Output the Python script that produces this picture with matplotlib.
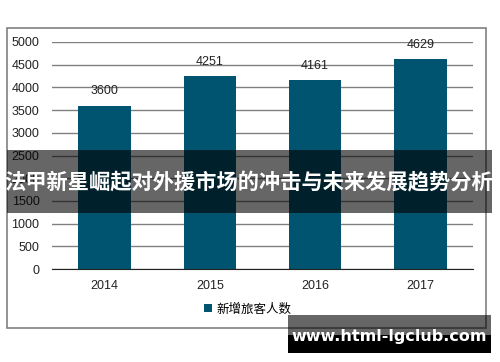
import matplotlib.pyplot as plt
from matplotlib.patches import Rectangle

plt.rcParams['font.family'] = ['Liberation Sans', 'Noto Sans CJK SC', 'DejaVu Sans']

years = ["2014", "2015", "2016", "2017"]
visitors = [3600, 4251, 4161, 4629]
yticks = [0, 500, 1000, 1500, 2000, 2500, 3000, 3500, 4000, 4500, 5000]
series_name = "新增旅客人数"
banner = "法甲新星崛起对外援市场的冲击与未来发展趋势分析"
watermark = "www.html-lgclub.com"

BAR = "#01546F"
W, H = 500, 362

fig = plt.figure(figsize=(W / 100, H / 100), dpi=100)

# outer frame of the chart
fig.patches.append(Rectangle((7 / W, 1 - 328 / H), 479 / W, 300 / H, transform=fig.transFigure,
                             fill=False, edgecolor="#808080", linewidth=1.2, zorder=0))

ax = fig.add_axes([52 / W, 93 / H, 421 / W, 227 / H])
x = range(len(years))
bars = ax.bar(x, visitors, width=0.5, color=BAR, label=series_name, zorder=3)
for xi, v in zip(x, visitors):
    ax.annotate(str(v), (xi, v), xytext=(0, 6), textcoords="offset points",
                ha="center", va="bottom", fontsize=9, color="#222222")

ax.set_xlim(-0.5, len(years) - 0.5)
ax.set_ylim(0, 5000)
ax.set_yticks(yticks)
ax.set_xticks(list(x))
ax.set_xticklabels(years)
ax.tick_params(axis="both", length=0, labelsize=9, colors="#222222")
ax.tick_params(axis="y", pad=9)
ax.tick_params(axis="x", pad=8)
ax.grid(axis="y", color="#808080", linewidth=1, zorder=0)
for s in ["top", "right", "left"]:
    ax.spines[s].set_visible(False)
ax.spines["bottom"].set_color("#222222")
ax.spines["bottom"].set_zorder(4)

ax.legend(loc="center", bbox_to_anchor=(248 / W, 1 - 309 / H), bbox_transform=fig.transFigure,
          frameon=False, handlelength=0.6, handleheight=0.6, handletextpad=0.4,
          prop={"family": ["Noto Sans CJK SC"], "size": 9})

# dark banner across the middle
fig.patches.append(Rectangle((7 / W, 1 - 213 / H), 485 / W, 63 / H, transform=fig.transFigure,
                             facecolor="black", alpha=0.6, edgecolor="none", zorder=10))
fig.text(249 / W, 1 - 183 / H, banner, ha="center", va="center", color="white",
         fontsize=15.3, fontweight="bold", family=["Noto Sans CJK SC"], zorder=11)

# watermark box
fig.patches.append(Rectangle((288 / W, 1 - 335 / H), 203 / W, 20 / H, transform=fig.transFigure,
                             facecolor="black", alpha=0.6, edgecolor="none", zorder=10))
fig.patches.append(Rectangle((288 / W, 1 - 353 / H), 203 / W, 18 / H, transform=fig.transFigure,
                             facecolor="black", edgecolor="none", zorder=10))
fig.text(389 / W, 1 - 337 / H, watermark, ha="center", va="center", color="white",
         fontsize=11.5, fontweight="bold", family=["DejaVu Sans"], zorder=11)

fig.savefig("out.png", dpi=100)
